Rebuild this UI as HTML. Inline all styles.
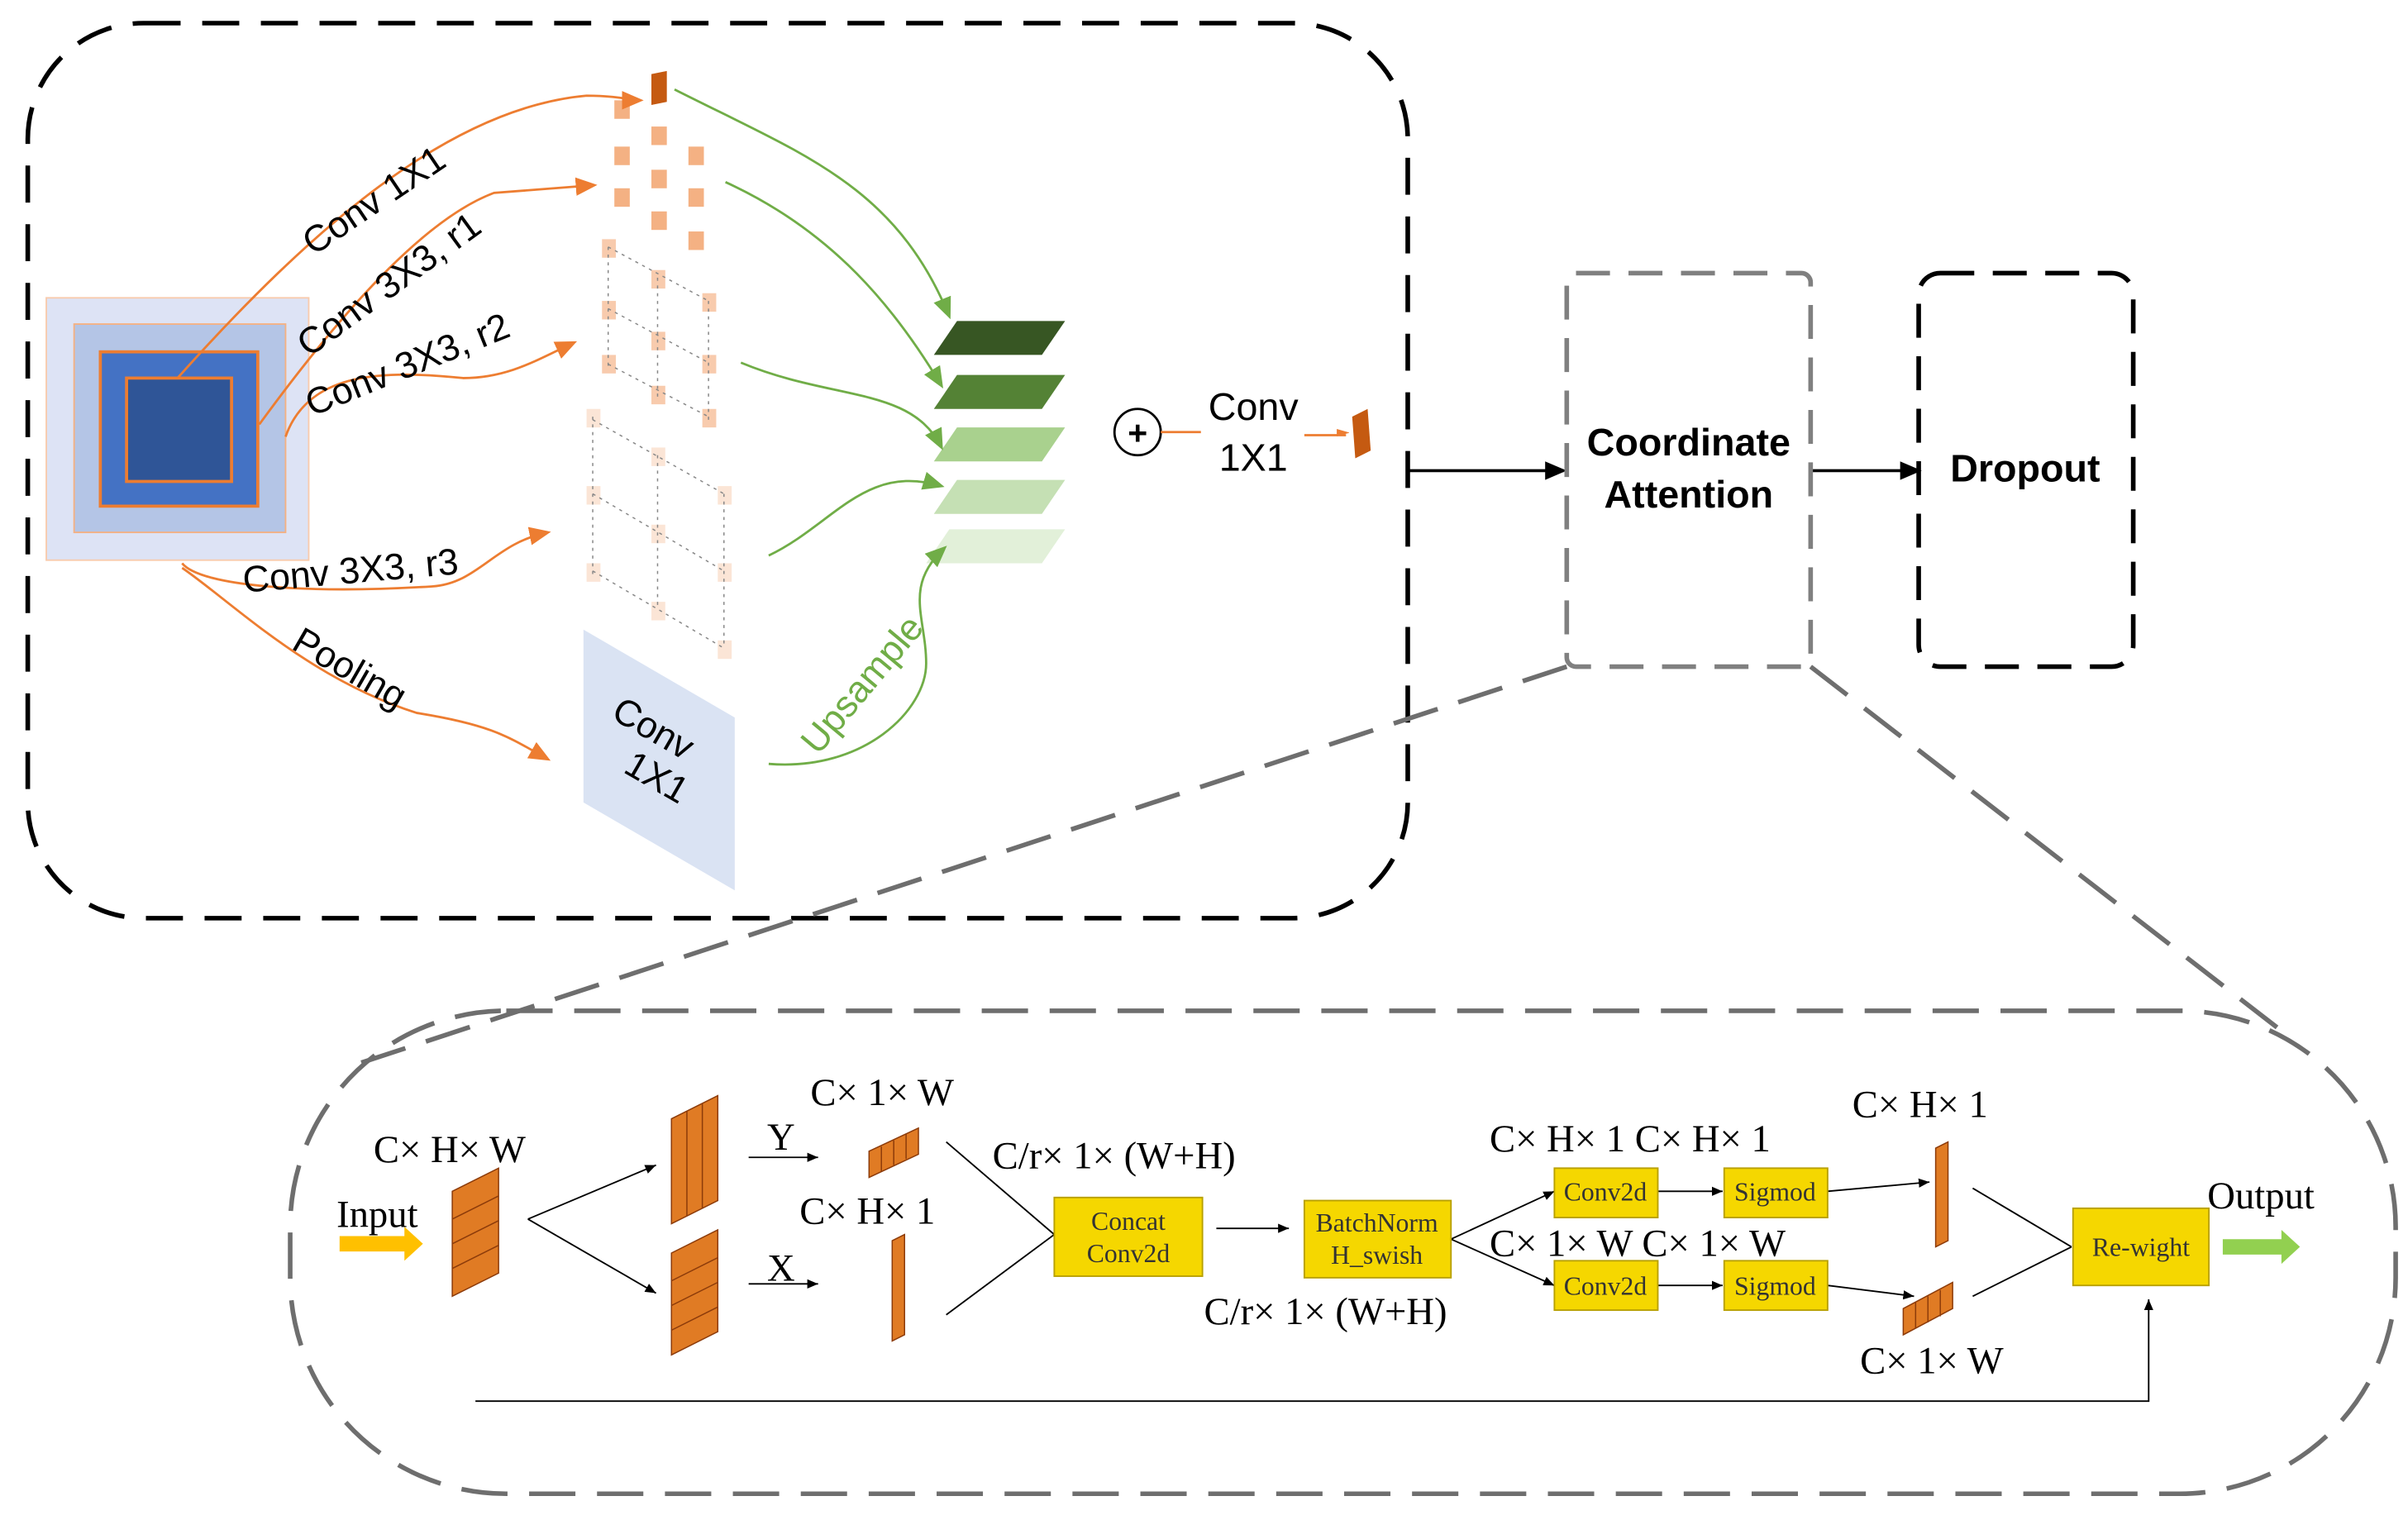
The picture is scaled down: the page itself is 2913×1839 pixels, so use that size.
<!DOCTYPE html>
<html><head><meta charset="utf-8"><style>
html,body{margin:0;padding:0;background:#fff;}
svg{display:block;}
.s{font-family:"Liberation Sans",sans-serif;}
.r{font-family:"Liberation Serif","Noto Serif CJK SC",serif;}
</style></head><body>
<svg width="2913" height="1839" viewBox="0 0 1560 985" preserveAspectRatio="none" xmlns="http://www.w3.org/2000/svg">
<defs>
<marker id="ao" markerWidth="8" markerHeight="8" refX="6" refY="4" orient="auto" markerUnits="userSpaceOnUse"><path d="M0,0 L14,4 L0,8 z" fill="#ed7d31" transform="scale(0.6)"/></marker>
<marker id="ao2" markerWidth="16" markerHeight="16" refX="12" refY="6" orient="auto" markerUnits="userSpaceOnUse"><path d="M0,0 L14,6 L0,12 z" fill="#ed7d31"/></marker>
<marker id="ag" markerWidth="16" markerHeight="16" refX="12" refY="6" orient="auto" markerUnits="userSpaceOnUse"><path d="M0,0 L14,6 L0,12 z" fill="#70ad47"/></marker>
<marker id="ak" markerWidth="16" markerHeight="16" refX="12" refY="6" orient="auto" markerUnits="userSpaceOnUse"><path d="M0,0 L14,6 L0,12 z" fill="#000"/></marker>
<marker id="ks" markerWidth="8" markerHeight="8" refX="7" refY="3" orient="auto" markerUnits="userSpaceOnUse"><path d="M0,0 L7,3 L0,6 z" fill="#000"/></marker>
</defs>

<rect x="18" y="15" width="894" height="580" rx="75" fill="none" stroke="#000" stroke-width="3" stroke-dasharray="24,14"/>

<rect x="30" y="193" width="170" height="170" fill="#dde3f5" stroke="#f8cbad" stroke-width="1"/>
<rect x="48" y="210" width="137" height="135" fill="#b4c5e6" stroke="#f4b183" stroke-width="1"/>
<rect x="65" y="228" width="102" height="100" fill="#4472c4" stroke="#ed7d31" stroke-width="2"/>
<rect x="82" y="245" width="68" height="67" fill="#2f5597" stroke="#ed7d31" stroke-width="2"/>

<polygon points="422,48 432,46 432,66 422,68" fill="#c55a11"/>
<g fill="#f4b183">
<rect x="398" y="65" width="10" height="12"/><rect x="398" y="95" width="10" height="12"/><rect x="398" y="122" width="10" height="12"/>
<rect x="422" y="82" width="10" height="12"/><rect x="422" y="110" width="10" height="12"/><rect x="422" y="137" width="10" height="12"/>
<rect x="446" y="95" width="10" height="12"/><rect x="446" y="122" width="10" height="12"/><rect x="446" y="150" width="10" height="12"/>
</g>
<g fill="#f8cbad">
<rect x="390" y="155" width="9" height="12"/><rect x="390" y="195" width="9" height="12"/><rect x="390" y="230" width="9" height="12"/>
<rect x="422" y="175" width="9" height="12"/><rect x="422" y="215" width="9" height="12"/><rect x="422" y="250" width="9" height="12"/>
<rect x="455" y="190" width="9" height="12"/><rect x="455" y="230" width="9" height="12"/><rect x="455" y="265" width="9" height="12"/>
</g>
<g fill="#fbe5d6">
<rect x="380" y="265" width="9" height="12"/><rect x="380" y="315" width="9" height="12"/><rect x="380" y="365" width="9" height="12"/>
<rect x="422" y="290" width="9" height="12"/><rect x="422" y="340" width="9" height="12"/><rect x="422" y="390" width="9" height="12"/>
<rect x="465" y="315" width="9" height="12"/><rect x="465" y="365" width="9" height="12"/><rect x="465" y="415" width="9" height="12"/>
</g>
<g stroke="#888" stroke-width="0.8" stroke-dasharray="2,3" fill="none">
<line x1="394" y1="160" x2="394" y2="240"/><line x1="426" y1="180" x2="426" y2="260"/><line x1="459" y1="195" x2="459" y2="275"/>
<line x1="394" y1="160" x2="459" y2="195"/><line x1="394" y1="200" x2="459" y2="235"/><line x1="394" y1="236" x2="459" y2="270"/>
<line x1="384" y1="270" x2="384" y2="372"/><line x1="426" y1="295" x2="426" y2="395"/><line x1="469" y1="320" x2="469" y2="420"/>
<line x1="384" y1="272" x2="469" y2="320"/><line x1="384" y1="320" x2="469" y2="370"/><line x1="384" y1="370" x2="469" y2="420"/>
</g>
<polygon points="378,408 476,465 476,577 378,520" fill="#dae3f3"/>
<text class="s" font-size="24" transform="translate(395,465) rotate(30)">Conv</text>
<text class="s" font-size="24" transform="translate(403,500) rotate(30)">1X1</text>

<g fill="none" stroke="#ed7d31" stroke-width="1.5">
<path d="M115,245 C200,150 290,70 380,62 C400,62 410,65 415,65" marker-end="url(#ao2)"/>
<path d="M168,275 C230,190 280,140 320,125 L385,120" marker-end="url(#ao2)"/>
<path d="M185,283 C200,240 250,240 300,245 C330,245 350,232 372,222" marker-end="url(#ao2)"/>
<path d="M118,365 C130,380 200,385 280,380 C310,378 320,352 355,345" marker-end="url(#ao2)"/>
<path d="M118,368 C150,390 200,440 270,462 C320,470 330,478 355,492" marker-end="url(#ao2)"/>
</g>
<g class="s" font-size="24" fill="#000">
<text transform="translate(203,166) rotate(-34)">Conv 1X1</text>
<text transform="translate(200,232) rotate(-36)">Conv 3X3, r1</text>
<text transform="translate(202,270) rotate(-22)">Conv 3X3, r2</text>
<text transform="translate(158,384) rotate(-5)">Conv 3X3, r3</text>
<text transform="translate(188,420) rotate(30)">Pooling</text>
<text transform="translate(530,490) rotate(-50)" fill="#70ad47">Upsample</text>
</g>

<polygon points="605,230 620,208 690,208 675,230" fill="#375623"/>
<polygon points="605,265 620,243 690,243 675,265" fill="#548235"/>
<polygon points="605,299 620,277 690,277 675,299" fill="#a9d18e"/>
<polygon points="605,333 620,311 690,311 675,333" fill="#c5e0b4"/>
<polygon points="600,365 615,343 690,343 675,365" fill="#e2f0d9"/>
<g fill="none" stroke="#70ad47" stroke-width="1.5">
<path d="M437,58 C520,100 580,120 615,205" marker-end="url(#ag)"/>
<path d="M470,118 C540,150 580,200 610,250" marker-end="url(#ag)"/>
<path d="M480,235 C540,260 590,250 610,290" marker-end="url(#ag)"/>
<path d="M498,360 C540,340 560,300 610,315" marker-end="url(#ag)"/>
<path d="M498,495 C560,500 600,460 600,430 C600,400 585,380 612,355" marker-end="url(#ag)"/>
</g>

<circle cx="737" cy="280" r="15" fill="#fff" stroke="#000" stroke-width="1.5"/>
<text class="s" x="737" y="288" font-size="22" text-anchor="middle" font-weight="bold">+</text>
<line x1="752" y1="280" x2="778" y2="280" stroke="#ed7d31" stroke-width="1.5"/>
<text class="s" x="812" y="272" font-size="25" text-anchor="middle">Conv</text>
<text class="s" x="812" y="305" font-size="25" text-anchor="middle">1X1</text>
<line x1="845" y1="282" x2="872" y2="282" stroke="#ed7d31" stroke-width="1.5" marker-end="url(#ao)"/>
<polygon points="876,270 886,265 888,292 878,297" fill="#c55a11"/>

<line x1="912" y1="305" x2="1013" y2="305" stroke="#000" stroke-width="2" marker-end="url(#ak)"/>
<line x1="1173" y1="305" x2="1243" y2="305" stroke="#000" stroke-width="2" marker-end="url(#ak)"/>
<rect x="1015" y="177" width="158" height="255" rx="6" fill="none" stroke="#808080" stroke-width="3" stroke-dasharray="22,12"/>
<text class="s" x="1094" y="295" font-size="25" font-weight="bold" text-anchor="middle">Coordinate</text>
<text class="s" x="1094" y="329" font-size="25" font-weight="bold" text-anchor="middle">Attention</text>
<rect x="1243" y="177" width="139" height="255" rx="14" fill="none" stroke="#000" stroke-width="3" stroke-dasharray="22,12"/>
<text class="s" x="1312" y="312" font-size="25" font-weight="bold" text-anchor="middle">Dropout</text>

<line x1="1015" y1="432" x2="230" y2="690" stroke="#6e6e6e" stroke-width="3" stroke-dasharray="30,14"/>
<line x1="1173" y1="432" x2="1478" y2="668" stroke="#6e6e6e" stroke-width="3" stroke-dasharray="30,14"/>

<rect x="188" y="655" width="1364" height="313" rx="140" fill="none" stroke="#6e6e6e" stroke-width="3" stroke-dasharray="30,14"/>

<g class="r" font-size="25" fill="#000">
<text x="218" y="795">Input</text>
<text x="242" y="753">C× H× W</text>
<text x="525" y="716">C× 1× W</text>
<text x="497" y="745">Y</text>
<text x="497" y="830">X</text>
<text x="518" y="793">C× H× 1</text>
<text x="643" y="757">C/r× 1× (W+H)</text>
<text x="780" y="858">C/r× 1× (W+H)</text>
<text x="965" y="746">C× H× 1 C× H× 1</text>
<text x="965" y="814">C× 1× W C× 1× W</text>
<text x="1200" y="724">C× H× 1</text>
<text x="1205" y="890">C× 1× W</text>
<text x="1430" y="783">Output</text>
</g>
<polygon points="220,801 262,801 262,795 274,806 262,817 262,811 220,811" fill="#ffc000"/>
<polygon points="1440,803 1478,803 1478,797 1490,808 1478,819 1478,813 1440,813" fill="#92d050"/>

<g stroke="#8c3b0a" stroke-width="0.8">
<polygon points="293,772 323,757 323,825 293,840" fill="#e07b24"/>
<line x1="293" y1="790" x2="323" y2="775"/><line x1="293" y1="806" x2="323" y2="791"/><line x1="293" y1="822" x2="323" y2="807"/>
<polygon points="435,725 465,710 465,778 435,793" fill="#e07b24"/>
<line x1="445" y1="720" x2="445" y2="788"/><line x1="455" y1="715" x2="455" y2="783"/>
<polygon points="435,812 465,797 465,863 435,878" fill="#e07b24"/>
<line x1="435" y1="830" x2="465" y2="815"/><line x1="435" y1="846" x2="465" y2="831"/><line x1="435" y1="862" x2="465" y2="847"/>
<polygon points="563,746 595,731 595,748 563,763" fill="#e07b24"/>
<line x1="571" y1="743" x2="571" y2="759"/><line x1="579" y1="739" x2="579" y2="755"/><line x1="587" y1="735" x2="587" y2="751"/>
<polygon points="578,804 586,800 586,865 578,869" fill="#e07b24"/>
<polygon points="1254,744 1262,740 1262,804 1254,808" fill="#e07b24"/>
<polygon points="1233,848 1265,831 1265,848 1233,865" fill="#e07b24"/>
<line x1="1241" y1="844" x2="1241" y2="861"/><line x1="1249" y1="840" x2="1249" y2="857"/><line x1="1257" y1="836" x2="1257" y2="853"/>
</g>

<g stroke="#000" stroke-width="1" fill="none">
<line x1="342" y1="790" x2="425" y2="755" marker-end="url(#ks)"/>
<line x1="342" y1="790" x2="425" y2="838" marker-end="url(#ks)"/>
<line x1="485" y1="750" x2="530" y2="750" marker-end="url(#ks)"/>
<line x1="485" y1="832" x2="530" y2="832" marker-end="url(#ks)"/>
<line x1="613" y1="740" x2="683" y2="800"/>
<line x1="613" y1="852" x2="683" y2="800"/>
<line x1="788" y1="796" x2="835" y2="796" marker-end="url(#ks)"/>
<line x1="940" y1="803" x2="1007" y2="772" marker-end="url(#ks)"/>
<line x1="940" y1="803" x2="1007" y2="833" marker-end="url(#ks)"/>
<line x1="1074" y1="772" x2="1116" y2="772" marker-end="url(#ks)"/>
<line x1="1074" y1="833" x2="1116" y2="833" marker-end="url(#ks)"/>
<line x1="1184" y1="772" x2="1250" y2="766" marker-end="url(#ks)"/>
<line x1="1184" y1="833" x2="1240" y2="840" marker-end="url(#ks)"/>
<line x1="1278" y1="770" x2="1342" y2="808"/>
<line x1="1278" y1="840" x2="1342" y2="808"/>
<polyline points="308,908 1392,908 1392,842" marker-end="url(#ks)"/>
</g>

<g stroke="#b8a000" stroke-width="1" fill="#f5d700">
<rect x="683" y="776" width="96" height="51"/>
<rect x="845" y="778" width="95" height="50"/>
<rect x="1007" y="757" width="67" height="32"/>
<rect x="1007" y="817" width="67" height="32"/>
<rect x="1117" y="757" width="67" height="32"/>
<rect x="1117" y="817" width="67" height="32"/>
<rect x="1343" y="783" width="88" height="50"/>
</g>
<g class="r" font-size="17" fill="#333" text-anchor="middle">
<text x="731" y="797">Concat</text><text x="731" y="818">Conv2d</text>
<text x="892" y="798">BatchNorm</text><text x="892" y="819">H_swish</text>
<text x="1040" y="778">Conv2d</text><text x="1040" y="839">Conv2d</text>
<text x="1150" y="778">Sigmod</text><text x="1150" y="839">Sigmod</text>
<text x="1387" y="814">Re-wight</text>
</g>
</svg>
</body></html>
